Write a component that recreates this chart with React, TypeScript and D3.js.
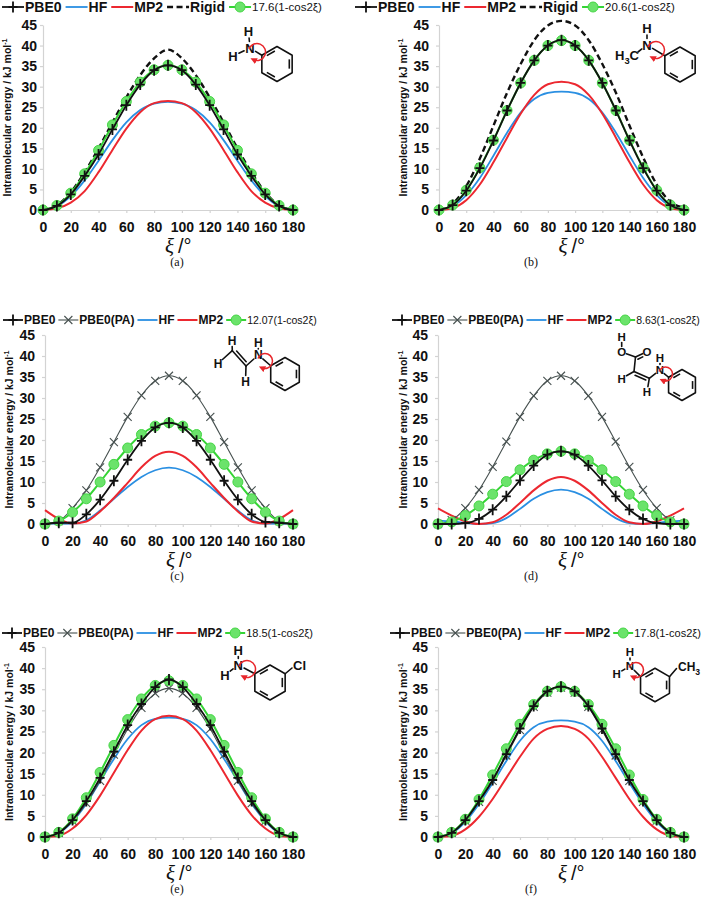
"use client"
import { useEffect, useRef } from 'react';
import * as d3 from 'd3';

// torsion angle xi (degrees) where every series is sampled
const angles = [0, 10, 20, 30, 40, 50, 60, 70, 80, 90, 100, 110, 120, 130, 140, 150, 160, 170, 180];
const energyTicks = [0, 5, 10, 15, 20, 25, 30, 35, 40, 45];
const angleTicks = [0, 20, 40, 60, 80, 100, 120, 140, 160, 180];

// (a) aniline
const aPBE0 = [0, 1.0, 3.8, 8.3, 13.5, 19.6, 25.5, 30.5, 34.0, 35.2, 34.0, 30.5, 25.5, 19.6, 13.5, 8.3, 3.8, 1.0, 0];
const aHF = [0, 0.9, 3.4, 7.2, 12.0, 17.0, 21.3, 24.3, 25.9, 26.3, 25.9, 24.3, 21.3, 17.0, 12.0, 7.2, 3.4, 0.9, 0];
const aMP2 = [0, 0.4, 1.8, 4.6, 9.2, 14.6, 19.8, 23.8, 26.0, 26.5, 26.0, 23.8, 19.8, 14.6, 9.2, 4.6, 1.8, 0.4, 0];
const aRigid = [0, 1.1, 4.3, 9.2, 15.0, 21.3, 27.4, 32.8, 36.9, 39.0, 36.9, 32.8, 27.4, 21.3, 15.0, 9.2, 4.3, 1.1, 0];
const aFit = [0, 1.1, 4.1, 8.8, 14.5, 20.7, 26.4, 31.1, 34.1, 35.2, 34.1, 31.1, 26.4, 20.7, 14.5, 8.8, 4.1, 1.1, 0];

// (b) N-methylaniline
const bPBE0 = [0, 1.2, 4.7, 10.2, 16.9, 24.2, 30.9, 36.4, 40.0, 41.3, 40.0, 36.4, 30.9, 24.2, 16.9, 10.2, 4.7, 1.2, 0];
const bHF = [0, 0.9, 3.6, 7.8, 13.2, 18.8, 23.7, 27.0, 28.5, 28.8, 28.5, 27.0, 23.7, 18.8, 13.2, 7.8, 3.6, 0.9, 0];
const bMP2 = [0, 0.5, 2.4, 6.2, 11.6, 17.6, 23.4, 28.0, 30.6, 31.2, 30.6, 28.0, 23.4, 17.6, 11.6, 6.2, 2.4, 0.5, 0];
const bRigid = [0, 1.5, 5.8, 12.5, 20.5, 28.5, 35.5, 41.3, 44.9, 46.0, 44.9, 41.3, 35.5, 28.5, 20.5, 12.8, 6.2, 2.0, 0.6];
const bFit = [0, 1.2, 4.8, 10.3, 17.0, 24.2, 30.9, 36.4, 40.0, 41.2, 40.0, 36.4, 30.9, 24.2, 17.0, 10.3, 4.8, 1.2, 0];

// (c) N-vinylaniline
const cPBE0 = [0, 0.3, 0.3, 2.3, 5.8, 10.3, 15.3, 19.8, 23.0, 24.1, 23.0, 19.8, 15.3, 10.3, 5.8, 2.3, 0.5, 0.3, 0];
const cPA = [0, 0.7, 3.8, 8.0, 13.5, 19.5, 25.5, 30.6, 34.1, 35.3, 34.1, 30.6, 25.5, 19.5, 13.5, 8.0, 3.8, 0.7, 0];
const cHF = [0.3, 0.1, 0.1, 0.9, 3.2, 6.0, 8.8, 11.2, 12.8, 13.4, 12.8, 11.2, 8.8, 6.0, 3.2, 0.9, 0.1, 0.1, 0.3];
const cMP2 = [3.3, 1.2, 0.1, 0.6, 3.0, 6.2, 9.8, 13.5, 16.2, 17.2, 16.2, 13.5, 9.8, 6.2, 3.0, 0.6, 0.1, 1.2, 3.3];
const cFit = [0, 0.7, 2.8, 6.0, 10.0, 14.2, 18.1, 21.3, 23.3, 24.1, 23.3, 21.3, 18.1, 14.2, 10.0, 6.0, 2.8, 0.7, 0];

// (d) 3-anilinoacrylic acid
const dPBE0 = [0, 0, 0.2, 1.2, 3.4, 6.6, 10.4, 13.9, 16.5, 17.3, 16.5, 13.9, 10.4, 6.6, 3.4, 1.2, 0.2, 0, 0];
const dPA = [0, 0.9, 3.8, 8.1, 13.6, 19.6, 25.5, 30.5, 34.1, 35.3, 34.1, 30.5, 25.5, 19.6, 13.6, 8.1, 3.8, 0.9, 0];
const dHF = [0.8, 0.6, 0.3, 0, 0.2, 1.4, 3.6, 6.0, 7.6, 8.2, 7.6, 6.0, 3.6, 1.4, 0.2, 0, 0.3, 0.6, 0.8];
const dMP2 = [3.7, 2.0, 0.6, 0, 0.4, 2.2, 5.0, 8.0, 10.3, 11.2, 10.3, 8.0, 5.0, 2.2, 0.4, 0, 0.6, 2.0, 3.7];
const dFit = [0, 0.5, 2.0, 4.3, 7.1, 10.1, 12.9, 15.2, 16.7, 17.3, 16.7, 15.2, 12.9, 10.1, 7.1, 4.3, 2.0, 0.5, 0];

// (e) 3-chloroaniline
const ePBE0 = [0, 1.0, 4.0, 8.5, 14.0, 20.2, 26.5, 31.5, 35.5, 37.3, 35.5, 31.5, 26.5, 20.2, 14.0, 8.5, 4.0, 1.0, 0];
const ePA = [0, 1.0, 3.8, 8.0, 13.3, 19.5, 25.6, 30.6, 34.0, 35.2, 34.0, 30.6, 25.6, 19.5, 13.3, 8.0, 3.8, 1.0, 0];
const eHF = [0, 0.9, 3.7, 7.9, 13.2, 18.5, 23.2, 26.5, 28.0, 28.3, 28.0, 26.5, 23.2, 18.5, 13.2, 7.9, 3.7, 0.9, 0];
const eMP2 = [0, 0.3, 2.0, 5.2, 9.8, 15.2, 20.6, 25.2, 27.9, 28.7, 27.9, 25.2, 20.6, 15.2, 9.8, 5.2, 2.0, 0.3, 0];
const eFit = [0, 1.1, 4.3, 9.3, 15.3, 21.7, 27.8, 32.7, 35.9, 37.0, 35.9, 32.7, 27.8, 21.7, 15.3, 9.3, 4.3, 1.1, 0];

// (f) 3-methylaniline
const fPBE0 = [0, 1.0, 4.0, 8.5, 13.5, 19.6, 25.7, 31.0, 34.5, 35.6, 34.5, 31.0, 25.7, 19.6, 13.5, 8.5, 4.0, 1.0, 0];
const fPA = [0, 1.0, 3.9, 8.3, 13.3, 19.3, 25.3, 30.8, 34.2, 35.4, 34.2, 30.8, 25.3, 19.3, 13.3, 8.3, 3.9, 1.0, 0];
const fHF = [0, 0.9, 3.6, 7.8, 12.8, 18.0, 22.8, 26.0, 27.3, 27.6, 27.3, 26.0, 22.8, 18.0, 12.8, 7.8, 3.6, 0.9, 0];
const fMP2 = [0, 0.3, 1.8, 4.8, 9.0, 14.0, 19.0, 23.3, 25.6, 26.3, 25.6, 23.3, 19.0, 14.0, 9.0, 4.8, 1.8, 0.3, 0];
const fFit = [0, 1.1, 4.2, 8.9, 14.7, 20.9, 26.7, 31.4, 34.5, 35.6, 34.5, 31.4, 26.7, 20.9, 14.7, 8.9, 4.2, 1.1, 0];

type Key = 'PBE0' | 'PBE0(PA)' | 'HF' | 'MP2' | 'Rigid' | 'fit';
type Pt = [number, number];
type G = d3.Selection<SVGGElement, unknown, null, undefined>;

const STYLE: Record<Key, { color: string; width: number; dash?: string; marker?: string; order: number }> = {
  HF: { color: '#2a8fe2', width: 1.8, order: 0 },
  MP2: { color: '#ec2830', width: 2, order: 1 },
  Rigid: { color: '#111', width: 2.4, dash: '6,3.5', order: 2 },
  'PBE0(PA)': { color: '#46504f', width: 1.1, marker: 'cross', order: 3 },
  fit: { color: '#35d435', width: 2, marker: 'dot', order: 4 },
  PBE0: { color: '#111', width: 1.8, marker: 'plus', order: 5 },
};

const FONT = '"Liberation Sans", Arial, sans-serif';
const SERIF = '"Liberation Serif", "Times New Roman", serif';
const RED = '#e8262b';

// ---- molecule sketch helpers (decoration only) ----
function trim(a: Pt, b: Pt, ta: number, tb: number): [Pt, Pt] {
  const dx = b[0] - a[0], dy = b[1] - a[1], L = Math.hypot(dx, dy);
  return [[a[0] + dx * ta / L, a[1] + dy * ta / L], [b[0] - dx * tb / L, b[1] - dy * tb / L]];
}

function bond(g: G, a: Pt, b: Pt, ta = 0, tb = 0, dbl = 0) {
  const [p, q] = trim(a, b, ta, tb);
  const ln = (u: Pt, v: Pt) => g.append('line')
    .attr('x1', u[0]).attr('y1', u[1]).attr('x2', v[0]).attr('y2', v[1])
    .attr('stroke', '#111').attr('stroke-width', 1.6).attr('stroke-linecap', 'round');
  ln(p, q);
  if (dbl) {
    const dx = q[0] - p[0], dy = q[1] - p[1], L = Math.hypot(dx, dy);
    const nx = -dy / L * 3 * dbl, ny = dx / L * 3 * dbl;
    ln([p[0] + dx * 0.15 + nx, p[1] + dy * 0.15 + ny], [q[0] - dx * 0.15 + nx, q[1] - dy * 0.15 + ny]);
  }
}

function ring(g: G, cx: number, cy: number, r: number): Pt[] {
  const v: Pt[] = d3.range(6).map(i => {
    const a = (-90 + 60 * i) * Math.PI / 180;
    return [cx + r * Math.cos(a), cy + r * Math.sin(a)] as Pt;
  });
  g.append('path').attr('d', 'M' + v.map(p => p.join(',')).join('L') + 'Z')
    .attr('fill', 'none').attr('stroke', '#111').attr('stroke-width', 1.6).attr('stroke-linejoin', 'round');
  const k = (r - 3.3) / r;
  [1, 3, 5].forEach(i => {
    const a = v[i], b = v[(i + 1) % 6];
    const ia: Pt = [cx + (a[0] - cx) * k, cy + (a[1] - cy) * k];
    const ib: Pt = [cx + (b[0] - cx) * k, cy + (b[1] - cy) * k];
    const [p, q] = trim(ia, ib, r * 0.14, r * 0.14);
    g.append('line').attr('x1', p[0]).attr('y1', p[1]).attr('x2', q[0]).attr('y2', q[1])
      .attr('stroke', '#111').attr('stroke-width', 1.6);
  });
  return v;
}

function atom(g: G, p: Pt, t: string, size = 11, sub?: string, tail?: string, anchor = 'middle') {
  const tx = g.append('text').attr('x', p[0]).attr('y', p[1]).attr('dy', '0.36em')
    .attr('text-anchor', anchor).attr('font-family', FONT).attr('font-weight', 'bold')
    .attr('font-size', size).attr('fill', '#111');
  tx.append('tspan').text(t);
  if (sub) tx.append('tspan').attr('font-size', size * 0.72).attr('dy', size * 0.3).text(sub);
  if (tail) tx.append('tspan').attr('dy', sub ? -size * 0.3 : 0).text(tail);
}

function turnArrow(g: G, cx: number, cy: number, r: number, a0 = -160, a1 = 115) {
  const p = (a: number) => [cx + r * Math.cos(a * Math.PI / 180), cy + r * Math.sin(a * Math.PI / 180)];
  g.append('path').attr('d', `M${p(a0)}A${r},${r} 0 1 1 ${p(a1)}`)
    .attr('fill', 'none').attr('stroke', RED).attr('stroke-width', 1.5)
    .attr('marker-end', 'url(#redHead)');
}

function molA(g: G) {
  const v = ring(g, 277, 64, 17.5);
  const N: Pt = [250, 48], H1: Pt = [248.5, 31.5], H2: Pt = [233, 56];
  atom(g, N, 'N', 13); atom(g, H1, 'H', 13); atom(g, H2, 'H', 13);
  bond(g, N, H1, 6.5, 6.5); bond(g, N, H2, 6.5, 6.5); bond(g, N, v[5], 6.5, 0);
  turnArrow(g, 257, 52, 8.5);
}

function molB(g: G) {
  const v = ring(g, 680, 64.5, 17.5);
  const N: Pt = [647, 45], H1: Pt = [647, 28.5];
  atom(g, N, 'N', 13); atom(g, H1, 'H', 13);
  atom(g, [639, 55], 'H', 13, '3', 'C', 'end');
  bond(g, N, H1, 6.5, 6.5); bond(g, N, [638, 52], 6.5, 0); bond(g, N, v[5], 6.5, 0);
  turnArrow(g, 656, 50, 8.5);
}

function molC(g: G) {
  const v = ring(g, 285, 374, 16.5);
  const N: Pt = [258.3, 355], HN: Pt = [258.3, 342.5], C1: Pt = [246, 366], C2: Pt = [232.3, 350.7];
  const Ht: Pt = [232, 340.5], Hl: Pt = [218, 363.5], Hb: Pt = [245.5, 381.5];
  [N, HN, Ht, Hl, Hb].forEach((p, i) => atom(g, p, i === 0 ? 'N' : 'H', 12));
  bond(g, N, HN, 6, 6); bond(g, N, v[5], 6, 0); bond(g, N, C1, 6, 0);
  bond(g, C1, C2, 0, 0, 1); bond(g, C2, Ht, 0, 6); bond(g, C2, Hl, 0, 6); bond(g, C1, Hb, 0, 6);
  turnArrow(g, 265, 361, 7.5);
}

function molD(g: G) {
  const v = ring(g, 682, 385, 15.5);
  const N: Pt = [660, 370], HN: Pt = [660, 358], C1: Pt = [649.3, 378.3], H1: Pt = [647, 392];
  const C2: Pt = [634, 371.5], H2: Pt = [621.7, 378.5], C3: Pt = [635.5, 357];
  const Or: Pt = [647, 351.5], Ol: Pt = [621.7, 352], HO: Pt = [621.7, 337];
  atom(g, N, 'N', 11.5); atom(g, HN, 'H', 11.5); atom(g, H1, 'H', 11.5); atom(g, H2, 'H', 11.5);
  atom(g, Or, 'O', 11.5); atom(g, Ol, 'O', 11.5); atom(g, HO, 'H', 11.5);
  bond(g, N, HN, 5.5, 5.5); bond(g, N, v[5], 5.5, 0); bond(g, N, C1, 5.5, 0);
  bond(g, C1, H1, 0, 5.5); bond(g, C1, C2, 0, 0, -1); bond(g, C2, H2, 0, 5.5);
  bond(g, C2, C3); bond(g, C3, Or, 0, 5, 1); bond(g, C3, Ol, 0, 5); bond(g, Ol, HO, 5.5, 5.5);
  turnArrow(g, 665.5, 374, 7);
}

function molE(g: G) {
  const v = ring(g, 270, 682.5, 17.5);
  const N: Pt = [238.3, 665], HN: Pt = [238.3, 650], H2: Pt = [225, 675];
  atom(g, N, 'N', 13); atom(g, HN, 'H', 13); atom(g, H2, 'H', 13);
  atom(g, [293, 665.5], 'Cl', 13, undefined, undefined, 'start');
  bond(g, N, HN, 6.5, 6.5); bond(g, N, H2, 6.5, 6.5); bond(g, N, v[5], 6.5, 0); bond(g, v[1], [292, 668]);
  turnArrow(g, 247, 669, 8.5);
}

function molF(g: G) {
  const v = ring(g, 655, 685, 16.7);
  const N: Pt = [630, 666], HN: Pt = [630, 652], H2: Pt = [616.7, 674];
  atom(g, N, 'N', 11.5); atom(g, HN, 'H', 11.5); atom(g, H2, 'H', 11.5);
  atom(g, [678, 667], 'CH', 12, '3', undefined, 'start');
  bond(g, N, HN, 6, 6); bond(g, N, H2, 6, 6); bond(g, N, v[5], 6, 0); bond(g, v[1], [676.5, 668.5]);
  turnArrow(g, 636, 670, 7.5);
}

interface PanelDef {
  caption: string;
  fitLabel: string;
  series: { key: Key; values: number[] }[];
  x0: number; x1: number; yTop: number; yBot: number; colCenter: number;
  legendX: number; legendY: number; legendSize: number; legendSample: number; legendGap: number; fitSize: number;
  tickPad: number; yLabelX: number;
  molecule: (g: G) => void;
}

const row1 = { yTop: 25, yBot: 210 };
const row2 = { yTop: 335, yBot: 524 };
const row3 = { yTop: 647, yBot: 837 };

const panels: PanelDef[] = [
  {
    caption: '(a)', fitLabel: '17.6(1-cos2ξ)', ...row1, x0: 43, x1: 293, colCenter: 177,
    series: [{ key: 'PBE0', values: aPBE0 }, { key: 'HF', values: aHF }, { key: 'MP2', values: aMP2 }, { key: 'Rigid', values: aRigid }, { key: 'fit', values: aFit }],
    legendX: 2, legendY: 7, legendSize: 14, legendSample: 22, legendGap: 4, fitSize: 11.5, tickPad: 3, yLabelX: 11, molecule: molA,
  },
  {
    caption: '(b)', fitLabel: '20.6(1-cos2ξ)', ...row1, x0: 439, x1: 684, colCenter: 531,
    series: [{ key: 'PBE0', values: bPBE0 }, { key: 'HF', values: bHF }, { key: 'MP2', values: bMP2 }, { key: 'Rigid', values: bRigid }, { key: 'fit', values: bFit }],
    legendX: 355, legendY: 7, legendSize: 14, legendSample: 22, legendGap: 4, fitSize: 11.5, tickPad: 7, yLabelX: 407, molecule: molB,
  },
  {
    caption: '(c)', fitLabel: '12.07(1-cos2ξ)', ...row2, x0: 45, x1: 293, colCenter: 177,
    series: [{ key: 'PBE0', values: cPBE0 }, { key: 'PBE0(PA)', values: cPA }, { key: 'HF', values: cHF }, { key: 'MP2', values: cMP2 }, { key: 'fit', values: cFit }],
    legendX: 3, legendY: 320, legendSize: 12, legendSample: 20, legendGap: 3, fitSize: 10.5, tickPad: 7, yLabelX: 13, molecule: molC,
  },
  {
    caption: '(d)', fitLabel: '8.63(1-cos2ξ)', ...row2, x0: 438, x1: 684, colCenter: 531,
    series: [{ key: 'PBE0', values: dPBE0 }, { key: 'PBE0(PA)', values: dPA }, { key: 'HF', values: dHF }, { key: 'MP2', values: dMP2 }, { key: 'fit', values: dFit }],
    legendX: 392, legendY: 320, legendSize: 12, legendSample: 20, legendGap: 3, fitSize: 10.5, tickPad: 7, yLabelX: 407, molecule: molD,
  },
  {
    caption: '(e)', fitLabel: '18.5(1-cos2ξ)', ...row3, x0: 45, x1: 293, colCenter: 177,
    series: [{ key: 'PBE0', values: ePBE0 }, { key: 'PBE0(PA)', values: ePA }, { key: 'HF', values: eHF }, { key: 'MP2', values: eMP2 }, { key: 'fit', values: eFit }],
    legendX: 2, legendY: 633, legendSize: 12, legendSample: 20, legendGap: 3, fitSize: 11, tickPad: 7, yLabelX: 13, molecule: molE,
  },
  {
    caption: '(f)', fitLabel: '17.8(1-cos2ξ)', ...row3, x0: 438, x1: 684, colCenter: 531,
    series: [{ key: 'PBE0', values: fPBE0 }, { key: 'PBE0(PA)', values: fPA }, { key: 'HF', values: fHF }, { key: 'MP2', values: fMP2 }, { key: 'fit', values: fFit }],
    legendX: 390, legendY: 633, legendSize: 12, legendSample: 20, legendGap: 3, fitSize: 11, tickPad: 7, yLabelX: 407, molecule: molF,
  },
];

function drawMarker(g: G, kind: string | undefined, color: string, px: number, py: number) {
  if (kind === 'plus') {
    g.append('path').attr('d', `M${px - 4.5},${py}H${px + 4.5}M${px},${py - 5.5}V${py + 5.5}`)
      .attr('stroke', color).attr('stroke-width', 1.8).attr('fill', 'none');
  } else if (kind === 'cross') {
    g.append('path').attr('d', `M${px - 4},${py - 4}L${px + 4},${py + 4}M${px - 4},${py + 4}L${px + 4},${py - 4}`)
      .attr('stroke', color).attr('stroke-width', 1.1).attr('fill', 'none');
  } else if (kind === 'dot') {
    g.append('circle').attr('cx', px).attr('cy', py).attr('r', 5)
      .attr('fill', '#6be36b').attr('stroke', '#45d645').attr('stroke-width', 1);
  }
}

function drawPanel(svg: d3.Selection<SVGSVGElement, unknown, null, undefined>, p: PanelDef) {
  const g = svg.append('g') as unknown as G;
  const x = d3.scaleLinear().domain([0, 180]).range([p.x0, p.x1]);
  const y = d3.scaleLinear().domain([0, 45]).range([p.yBot, p.yTop]);
  const grey = '#d3d3d3';

  // axes
  const yAxis = g.append('g').attr('transform', `translate(${p.x0},0)`)
    .call(d3.axisLeft(y).tickValues(energyTicks).tickSize(3).tickSizeOuter(0).tickPadding(p.tickPad) as any);
  const xAxis = g.append('g').attr('transform', `translate(0,${p.yBot})`)
    .call(d3.axisBottom(x).tickValues(angleTicks).tickSize(3).tickSizeOuter(0).tickPadding(9.5) as any);
  [yAxis, xAxis].forEach(ax => {
    ax.select('.domain').attr('stroke', grey).attr('stroke-width', 1.2);
    ax.selectAll('.tick line').attr('stroke', grey).attr('stroke-width', 1.2);
    ax.selectAll('.tick text').attr('font-family', FONT).attr('font-weight', 'bold')
      .attr('font-size', 14).attr('fill', '#111');
  });

  // y label
  const yl = g.append('text')
    .attr('transform', `translate(${p.yLabelX},${(p.yTop + p.yBot) / 2}) rotate(-90)`)
    .attr('text-anchor', 'middle').attr('font-family', FONT).attr('font-weight', 'bold')
    .attr('font-size', 10.5).attr('fill', '#111');
  yl.append('tspan').text('Intramolecular energy / kJ mol');
  yl.append('tspan').attr('font-size', 7).attr('dy', -4).text('-1');

  // x label
  const xl = g.append('text').attr('x', (p.x0 + p.x1) / 2 - 3).attr('y', p.yBot + 43).attr('fill', '#111');
  xl.append('tspan').attr('font-family', SERIF)
    .attr('font-style', 'italic').attr('font-size', 21).text('ξ');
  xl.append('tspan').attr('font-family', FONT).attr('font-size', 20).attr('dx', 4).text('/°');

  // caption
  g.append('text').attr('x', p.colCenter).attr('y', p.yBot + 56).attr('text-anchor', 'middle')
    .attr('font-family', SERIF).attr('font-size', 12)
    .attr('fill', '#111').text(p.caption);

  // series
  const line = d3.line<number>().x((_, i) => x(angles[i])).y(d => y(d)).curve(d3.curveMonotoneX);
  const ordered = [...p.series].sort((s1, s2) => STYLE[s1.key].order - STYLE[s2.key].order);
  ordered.forEach(s => {
    const st = STYLE[s.key];
    g.append('path').attr('d', line(s.values)).attr('fill', 'none')
      .attr('stroke', st.color).attr('stroke-width', st.width)
      .attr('stroke-dasharray', st.dash ?? null);
    s.values.forEach((v, i) => drawMarker(g, st.marker, st.color, x(angles[i]), y(v)));
  });

  // legend
  let cx = p.legendX;
  p.series.forEach(s => {
    const st = STYLE[s.key];
    const ly = p.legendY;
    g.append('line').attr('x1', cx).attr('x2', cx + p.legendSample).attr('y1', ly).attr('y2', ly)
      .attr('stroke', st.color).attr('stroke-width', st.width).attr('stroke-dasharray', st.dash ?? null);
    drawMarker(g, st.marker, st.color, cx + p.legendSample / 2, ly);
    cx += p.legendSample + 1;
    const isFit = s.key === 'fit';
    const t = g.append('text').attr('x', cx).attr('y', ly).attr('dy', '0.36em')
      .attr('font-family', FONT).attr('font-weight', isFit ? 'normal' : 'bold')
      .attr('font-size', isFit ? p.fitSize : p.legendSize).attr('fill', '#111')
      .text(isFit ? p.fitLabel : s.key);
    cx += (t.node() as SVGTextElement).getComputedTextLength() + p.legendGap;
  });

  p.molecule(g);
}

export default function App() {
  const svgRef = useRef<SVGSVGElement>(null);

  useEffect(() => {
    document.body.style.margin = '0';
    const svg = d3.select<SVGSVGElement, unknown>(svgRef.current as SVGSVGElement);
    svg.selectAll('*').remove();

    svg.append('defs').append('marker').attr('id', 'redHead')
      .attr('viewBox', '0 0 10 10').attr('refX', 5).attr('refY', 5)
      .attr('markerWidth', 6.5).attr('markerHeight', 6.5).attr('markerUnits', 'userSpaceOnUse')
      .attr('orient', 'auto')
      .append('path').attr('d', 'M0,0L10,5L0,10z').attr('fill', RED);

    panels.forEach(p => drawPanel(svg, p));
  }, []);

  return (
    <svg ref={svgRef} width={707} height={917} style={{ display: 'block', background: '#fff' }} />
  );
}
